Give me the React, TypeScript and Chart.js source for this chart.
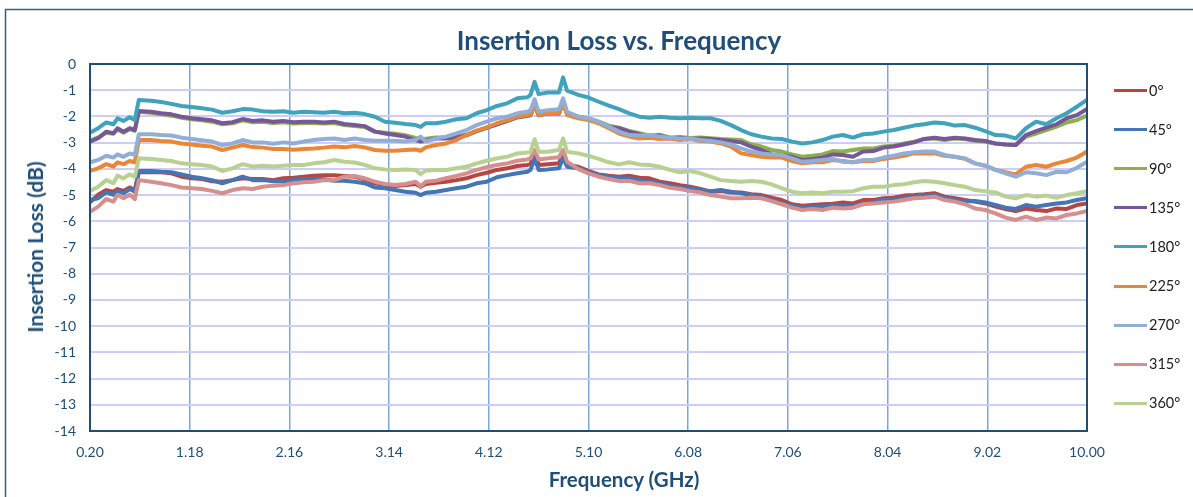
import React, { useEffect, useRef } from "react";
import { Chart, registerables } from "chart.js";

Chart.register(...registerables);

// Frequency samples (GHz)
const FREQ = [
  0.2, 0.28, 0.36, 0.43, 0.47, 0.53, 0.59, 0.64, 0.68,
  0.8, 0.9, 1.0, 1.1, 1.2, 1.3, 1.4, 1.5, 1.6, 1.7, 1.8, 1.9, 2.0, 2.1, 2.2, 2.3, 2.4, 2.5,
  2.6, 2.7, 2.8, 2.9, 3.0, 3.1, 3.2, 3.3, 3.4, 3.45, 3.5, 3.6, 3.7, 3.8, 3.9, 4.0, 4.1, 4.2, 4.3, 4.4, 4.5,
  4.53, 4.57, 4.61, 4.7, 4.81, 4.85, 4.89,
  5.0, 5.1, 5.2, 5.3, 5.4, 5.5, 5.6, 5.7, 5.8, 5.9, 6.0, 6.1, 6.2, 6.3, 6.4, 6.5, 6.6, 6.7, 6.8, 6.9, 7.0, 7.1, 7.2, 7.3, 7.4, 7.5,
  7.6, 7.7, 7.8, 7.9, 8.0, 8.1, 8.2, 8.3, 8.4, 8.5, 8.6, 8.7, 8.8, 8.9, 9.0, 9.1, 9.2, 9.3, 9.4, 9.5, 9.6, 9.7, 9.8, 9.9, 10.0,
];

const LOSS_0 = [
  -5.28, -4.99, -4.81, -4.87, -4.77, -4.84, -4.71, -4.81, -4.13,
  -4.13, -4.13, -4.17, -4.30, -4.36, -4.39, -4.47, -4.49, -4.43, -4.36, -4.39, -4.39, -4.43, -4.36, -4.34, -4.30, -4.26, -4.24,
  -4.24, -4.27, -4.30, -4.40, -4.55, -4.62, -4.65, -4.62, -4.58, -4.68, -4.58, -4.53, -4.49, -4.43, -4.36, -4.24, -4.15, -4.04, -3.98, -3.89, -3.85,
  -3.82, -3.35, -3.85, -3.82, -3.79, -3.35, -3.85,
  -3.92, -4.08, -4.21, -4.26, -4.30, -4.26, -4.34, -4.36, -4.49, -4.55, -4.62, -4.68, -4.77, -4.87, -4.85, -4.90, -4.90, -4.97, -5.00, -5.10, -5.19, -5.35, -5.41, -5.38, -5.35, -5.33,
  -5.28, -5.32, -5.19, -5.19, -5.12, -5.10, -5.02, -5.00, -4.97, -4.93, -5.06, -5.12, -5.19, -5.25, -5.32, -5.44, -5.53, -5.61, -5.51, -5.57, -5.61, -5.51, -5.53, -5.38, -5.32,
];

const LOSS_45 = [
  -5.19, -5.12, -4.90, -4.99, -4.84, -4.93, -4.77, -4.87, -4.08,
  -4.08, -4.11, -4.13, -4.21, -4.30, -4.36, -4.43, -4.55, -4.43, -4.30, -4.43, -4.43, -4.47, -4.47, -4.43, -4.39, -4.39, -4.40,
  -4.45, -4.45, -4.49, -4.55, -4.71, -4.74, -4.81, -4.87, -4.91, -5.00, -4.91, -4.87, -4.81, -4.74, -4.68, -4.55, -4.49, -4.32, -4.24, -4.17, -4.11,
  -4.04, -3.60, -4.04, -4.02, -3.98, -3.57, -3.92,
  -3.98, -4.13, -4.24, -4.30, -4.36, -4.36, -4.43, -4.49, -4.55, -4.64, -4.72, -4.74, -4.81, -4.85, -4.81, -4.87, -4.93, -5.00, -5.06, -5.19, -5.32, -5.41, -5.48, -5.44, -5.44, -5.39,
  -5.41, -5.41, -5.32, -5.28, -5.19, -5.19, -5.12, -5.06, -5.02, -5.00, -5.12, -5.19, -5.25, -5.23, -5.28, -5.38, -5.48, -5.53, -5.38, -5.44, -5.38, -5.32, -5.28, -5.19, -5.12,
];

const LOSS_90 = [
  -2.92, -2.80, -2.62, -2.66, -2.50, -2.62, -2.48, -2.55, -1.82,
  -1.86, -1.92, -1.97, -2.05, -2.11, -2.15, -2.20, -2.30, -2.26, -2.15, -2.22, -2.20, -2.25, -2.22, -2.27, -2.25, -2.25, -2.27,
  -2.25, -2.33, -2.37, -2.40, -2.58, -2.62, -2.66, -2.72, -2.82, -2.88, -2.85, -2.80, -2.80, -2.76, -2.70, -2.56, -2.44, -2.30, -2.18, -2.04, -1.98,
  -1.96, -1.58, -1.96, -1.90, -1.90, -1.48, -1.90,
  -2.01, -2.08, -2.20, -2.35, -2.43, -2.55, -2.64, -2.73, -2.70, -2.80, -2.78, -2.82, -2.80, -2.83, -2.86, -2.88, -2.90, -3.07, -3.15, -3.28, -3.34, -3.45, -3.54, -3.50, -3.45, -3.32,
  -3.34, -3.28, -3.22, -3.22, -3.15, -3.12, -3.03, -2.96, -2.86, -2.84, -2.90, -2.84, -2.86, -2.94, -2.96, -3.03, -3.07, -3.09, -2.77, -2.65, -2.52, -2.39, -2.23, -2.14, -1.97,
];

const LOSS_135 = [
  -2.96, -2.83, -2.58, -2.64, -2.45, -2.58, -2.45, -2.52, -1.79,
  -1.82, -1.88, -1.92, -2.01, -2.07, -2.11, -2.15, -2.26, -2.22, -2.10, -2.17, -2.15, -2.20, -2.17, -2.22, -2.20, -2.20, -2.23,
  -2.20, -2.29, -2.33, -2.37, -2.58, -2.65, -2.71, -2.77, -2.90, -2.96, -2.93, -2.84, -2.84, -2.80, -2.72, -2.56, -2.43, -2.30, -2.17, -2.03, -1.97,
  -1.95, -1.55, -1.95, -1.88, -1.88, -1.45, -1.88,
  -2.01, -2.10, -2.23, -2.39, -2.45, -2.58, -2.68, -2.77, -2.73, -2.84, -2.81, -2.86, -2.84, -2.86, -2.90, -2.94, -2.99, -3.15, -3.28, -3.45, -3.47, -3.54, -3.66, -3.62, -3.57, -3.45,
  -3.47, -3.54, -3.34, -3.32, -3.19, -3.15, -3.07, -2.99, -2.86, -2.81, -2.86, -2.81, -2.84, -2.90, -2.94, -3.03, -3.07, -3.09, -2.71, -2.56, -2.43, -2.30, -2.07, -1.95, -1.72,
];

const LOSS_180 = [
  -2.62, -2.45, -2.23, -2.30, -2.07, -2.17, -2.03, -2.14, -1.37,
  -1.40, -1.45, -1.52, -1.60, -1.64, -1.69, -1.74, -1.86, -1.80, -1.72, -1.74, -1.80, -1.82, -1.80, -1.86, -1.82, -1.84, -1.86,
  -1.82, -1.88, -1.86, -1.91, -2.01, -2.20, -2.24, -2.29, -2.33, -2.40, -2.26, -2.26, -2.20, -2.11, -2.07, -1.88, -1.76, -1.60, -1.50, -1.31, -1.27,
  -1.18, -0.68, -1.15, -1.09, -1.09, -0.51, -1.02,
  -1.18, -1.28, -1.44, -1.59, -1.72, -1.88, -2.01, -2.05, -2.01, -2.05, -2.07, -2.05, -2.07, -2.07, -2.17, -2.33, -2.52, -2.68, -2.77, -2.84, -2.86, -2.96, -3.03, -2.99, -2.90, -2.77,
  -2.71, -2.81, -2.68, -2.65, -2.58, -2.52, -2.43, -2.35, -2.30, -2.23, -2.26, -2.35, -2.33, -2.43, -2.56, -2.71, -2.73, -2.84, -2.45, -2.20, -2.30, -2.07, -1.88, -1.63, -1.37,
];

const LOSS_225 = [
  -4.08, -3.98, -3.82, -3.91, -3.75, -3.82, -3.70, -3.75, -2.90,
  -2.90, -2.94, -2.96, -3.03, -3.07, -3.12, -3.15, -3.28, -3.19, -3.09, -3.17, -3.19, -3.24, -3.24, -3.27, -3.24, -3.22, -3.19,
  -3.15, -3.18, -3.13, -3.18, -3.28, -3.31, -3.31, -3.28, -3.26, -3.31, -3.18, -3.09, -3.03, -2.90, -2.71, -2.54, -2.42, -2.26, -2.14, -2.01, -1.95,
  -1.92, -1.57, -1.95, -1.88, -1.86, -1.50, -1.95,
  -2.07, -2.14, -2.26, -2.45, -2.65, -2.77, -2.84, -2.81, -2.86, -2.84, -2.90, -2.86, -2.94, -2.96, -3.03, -3.15, -3.41, -3.47, -3.54, -3.57, -3.57, -3.70, -3.79, -3.75, -3.75, -3.66,
  -3.70, -3.75, -3.70, -3.70, -3.62, -3.57, -3.50, -3.41, -3.41, -3.41, -3.50, -3.54, -3.62, -3.79, -3.88, -4.04, -4.13, -4.21, -3.92, -3.85, -3.92, -3.79, -3.70, -3.57, -3.34,
];

const LOSS_270 = [
  -3.75, -3.66, -3.50, -3.57, -3.45, -3.54, -3.41, -3.47, -2.68,
  -2.68, -2.71, -2.73, -2.81, -2.86, -2.91, -2.96, -3.09, -3.03, -2.90, -2.99, -2.99, -3.04, -2.99, -3.03, -2.96, -2.90, -2.86,
  -2.84, -2.90, -2.84, -2.90, -2.93, -2.93, -2.93, -2.96, -2.90, -2.77, -2.96, -2.84, -2.77, -2.65, -2.52, -2.33, -2.20, -2.07, -2.01, -1.88, -1.82,
  -1.76, -1.35, -1.82, -1.76, -1.73, -1.31, -1.82,
  -2.01, -2.07, -2.20, -2.39, -2.58, -2.71, -2.73, -2.71, -2.77, -2.81, -2.84, -2.84, -2.90, -2.94, -2.99, -3.07, -3.22, -3.34, -3.41, -3.45, -3.47, -3.60, -3.73, -3.70, -3.66, -3.62,
  -3.73, -3.75, -3.66, -3.66, -3.57, -3.50, -3.41, -3.37, -3.34, -3.34, -3.47, -3.54, -3.60, -3.79, -3.88, -4.04, -4.17, -4.30, -4.13, -4.17, -4.24, -4.11, -4.13, -3.96, -3.73,
];

const LOSS_315 = [
  -5.64, -5.44, -5.15, -5.25, -4.99, -5.12, -4.99, -5.15, -4.43,
  -4.49, -4.55, -4.62, -4.71, -4.74, -4.77, -4.84, -4.93, -4.81, -4.74, -4.77, -4.68, -4.64, -4.62, -4.55, -4.51, -4.49, -4.43,
  -4.43, -4.30, -4.27, -4.36, -4.49, -4.58, -4.62, -4.58, -4.49, -4.66, -4.49, -4.45, -4.36, -4.27, -4.17, -4.04, -3.94, -3.85, -3.79, -3.69, -3.64,
  -3.60, -3.28, -3.64, -3.60, -3.56, -3.28, -3.73,
  -4.01, -4.17, -4.30, -4.39, -4.46, -4.46, -4.55, -4.55, -4.62, -4.72, -4.77, -4.85, -4.90, -5.00, -5.06, -5.12, -5.12, -5.10, -5.12, -5.23, -5.35, -5.48, -5.57, -5.53, -5.57, -5.48,
  -5.51, -5.48, -5.35, -5.32, -5.28, -5.25, -5.19, -5.12, -5.10, -5.06, -5.19, -5.25, -5.35, -5.51, -5.57, -5.70, -5.86, -5.95, -5.82, -5.95, -5.86, -5.89, -5.76, -5.70, -5.61,
];

const LOSS_360 = [
  -4.84, -4.68, -4.43, -4.55, -4.26, -4.36, -4.21, -4.30, -3.60,
  -3.62, -3.66, -3.70, -3.79, -3.82, -3.85, -3.91, -4.08, -3.98, -3.82, -3.91, -3.88, -3.91, -3.88, -3.85, -3.85, -3.79, -3.75,
  -3.66, -3.73, -3.76, -3.85, -3.98, -4.02, -4.04, -4.02, -4.04, -4.20, -4.07, -4.04, -4.04, -3.98, -3.92, -3.79, -3.69, -3.60, -3.54, -3.41, -3.38,
  -3.35, -2.87, -3.35, -3.35, -3.28, -2.84, -3.35,
  -3.41, -3.50, -3.62, -3.75, -3.83, -3.75, -3.83, -3.85, -3.92, -4.04, -4.13, -4.08, -4.17, -4.30, -4.43, -4.46, -4.49, -4.46, -4.49, -4.59, -4.74, -4.87, -4.93, -4.90, -4.93, -4.87,
  -4.87, -4.85, -4.74, -4.68, -4.68, -4.62, -4.59, -4.51, -4.46, -4.49, -4.55, -4.62, -4.68, -4.81, -4.85, -4.90, -5.06, -5.12, -5.00, -5.06, -5.02, -5.10, -5.00, -4.93, -4.85,
];

const SERIES_NAMES = ["0°", "45°", "90°", "135°", "180°", "225°", "270°", "315°", "360°"];
const SERIES_VALUES = [LOSS_0, LOSS_45, LOSS_90, LOSS_135, LOSS_180, LOSS_225, LOSS_270, LOSS_315, LOSS_360];
const SERIES_COLORS = ["#B94542", "#4476B5", "#8EB04C", "#765899", "#3FA3BC", "#EC8637", "#91AED6", "#D68F8D", "#B9D190"];

const X_TICKS = [0.2, 1.18, 2.16, 3.14, 4.12, 5.1, 6.08, 7.06, 8.04, 9.02, 10.0];
const Y_TICKS = [-14, -13, -12, -11, -10, -9, -8, -7, -6, -5, -4, -3, -2, -1, 0];

const TITLE = "Insertion Loss vs. Frequency";
const X_TITLE = "Frequency (GHz)";
const Y_TITLE = "Insertion Loss (dB)";

const FONT = "Lato, 'Open Sans', 'DejaVu Sans', sans-serif";
const NAVY = "#1F4E79";

const W = 1193;
const H = 497;

const framePlugin = {
  id: "frame",
  beforeDraw(chart: any) {
    const ctx = chart.ctx;
    ctx.save();
    ctx.fillStyle = "#ffffff";
    ctx.fillRect(0, 0, chart.width, chart.height);
    ctx.strokeStyle = "#2F5F8C";
    ctx.lineWidth = 1.5;
    ctx.beginPath();
    ctx.moveTo(5.5, chart.height + 5);
    ctx.lineTo(5.5, 9.5);
    ctx.lineTo(chart.width + 5, 9.5);
    ctx.stroke();
    ctx.restore();
  },
  afterDraw(chart: any) {
    const { left, top, right, bottom } = chart.chartArea;
    const ctx = chart.ctx;
    ctx.save();
    ctx.strokeStyle = NAVY;
    ctx.lineWidth = 2;
    ctx.strokeRect(left, top, right - left, bottom - top);
    ctx.restore();
  },
};

export default function App() {
  const canvasRef = useRef<HTMLCanvasElement | null>(null);

  useEffect(() => {
    const canvas = canvasRef.current;
    if (!canvas) return;
    const n = SERIES_VALUES.length;
    const chart = new Chart(canvas, {
      type: "line",
      data: {
        datasets: SERIES_VALUES.map((vals, i) => ({
          label: SERIES_NAMES[i],
          data: FREQ.map((f, j) => ({ x: f, y: vals[j] })),
          borderColor: SERIES_COLORS[i],
          backgroundColor: SERIES_COLORS[i],
          borderWidth: 4,
          borderJoinStyle: "round",
          borderCapStyle: "round",
          pointRadius: 0,
          tension: 0,
          fill: false,
          order: n - i,
        })),
      },
      options: {
        responsive: false,
        maintainAspectRatio: false,
        animation: false,
        layout: { padding: { top: 64, right: 106, left: 0, bottom: 0 } },
        plugins: {
          legend: { display: false },
          title: { display: false },
          tooltip: { enabled: false },
        },
        scales: {
          x: {
            type: "linear",
            min: 0.2,
            max: 10,
            afterBuildTicks: (s: any) => {
              s.ticks = X_TICKS.map((v) => ({ value: v }));
            },
            afterFit: (s: any) => {
              s.height = 66;
            },
            grid: { color: "#7EA6DC", lineWidth: 1.5, drawTicks: false },
            border: { display: false },
            ticks: {
              autoSkip: false,
              maxRotation: 0,
              padding: 13,
              color: NAVY,
              font: { family: FONT, size: 14 },
              callback: (v: any) => Number(v).toFixed(2),
            },
          },
          y: {
            type: "linear",
            min: -14,
            max: 0,
            afterBuildTicks: (s: any) => {
              s.ticks = Y_TICKS.map((v) => ({ value: v }));
            },
            afterFit: (s: any) => {
              s.width = 90;
            },
            grid: { color: "#CDCDF7", lineWidth: 2, drawTicks: false },
            border: { display: false },
            ticks: {
              padding: 14,
              color: NAVY,
              font: { family: FONT, size: 14 },
              callback: (v: any) => String(v),
            },
          },
        },
      } as any,
      plugins: [framePlugin],
    });
    return () => chart.destroy();
  }, []);

  const legendTop = 90.5;
  const legendStep = 39.1;

  return (
    <div style={{ position: "fixed", left: 0, top: 0, width: W, height: H, background: "#fff", overflow: "hidden" }}>
      <canvas ref={canvasRef} width={W} height={H} style={{ position: "absolute", left: 0, top: 0, width: W, height: H }} />
      <div
        style={{
          position: "absolute",
          left: 619,
          top: 40,
          transform: "translate(-50%, -50%)",
          whiteSpace: "nowrap",
          fontFamily: FONT,
          fontWeight: 700,
          fontSize: 26,
          lineHeight: "30px",
          color: NAVY,
        }}
      >
        {TITLE}
      </div>
      <div
        style={{
          position: "absolute",
          left: 35,
          top: 247,
          transform: "translate(-50%, -50%) rotate(-90deg)",
          whiteSpace: "nowrap",
          fontFamily: FONT,
          fontWeight: 700,
          fontSize: 21,
          lineHeight: "24px",
          color: NAVY,
        }}
      >
        {Y_TITLE}
      </div>
      <div
        style={{
          position: "absolute",
          left: 624,
          top: 479,
          transform: "translate(-50%, -50%)",
          whiteSpace: "nowrap",
          fontFamily: FONT,
          fontWeight: 700,
          fontSize: 20.5,
          lineHeight: "24px",
          color: NAVY,
        }}
      >
        {X_TITLE}
      </div>
      {SERIES_NAMES.map((name, i) => {
        const yc = legendTop + i * legendStep;
        return (
          <React.Fragment key={name}>
            <div
              style={{
                position: "absolute",
                left: 1114,
                top: yc - 1.5,
                width: 33,
                height: 3,
                background: SERIES_COLORS[i],
              }}
            />
            <div
              style={{
                position: "absolute",
                left: 1149,
                top: yc - 9,
                fontFamily: FONT,
                fontSize: 14.5,
                lineHeight: "18px",
                color: "#222",
                whiteSpace: "nowrap",
              }}
            >
              {name}
            </div>
          </React.Fragment>
        );
      })}
    </div>
  );
}
